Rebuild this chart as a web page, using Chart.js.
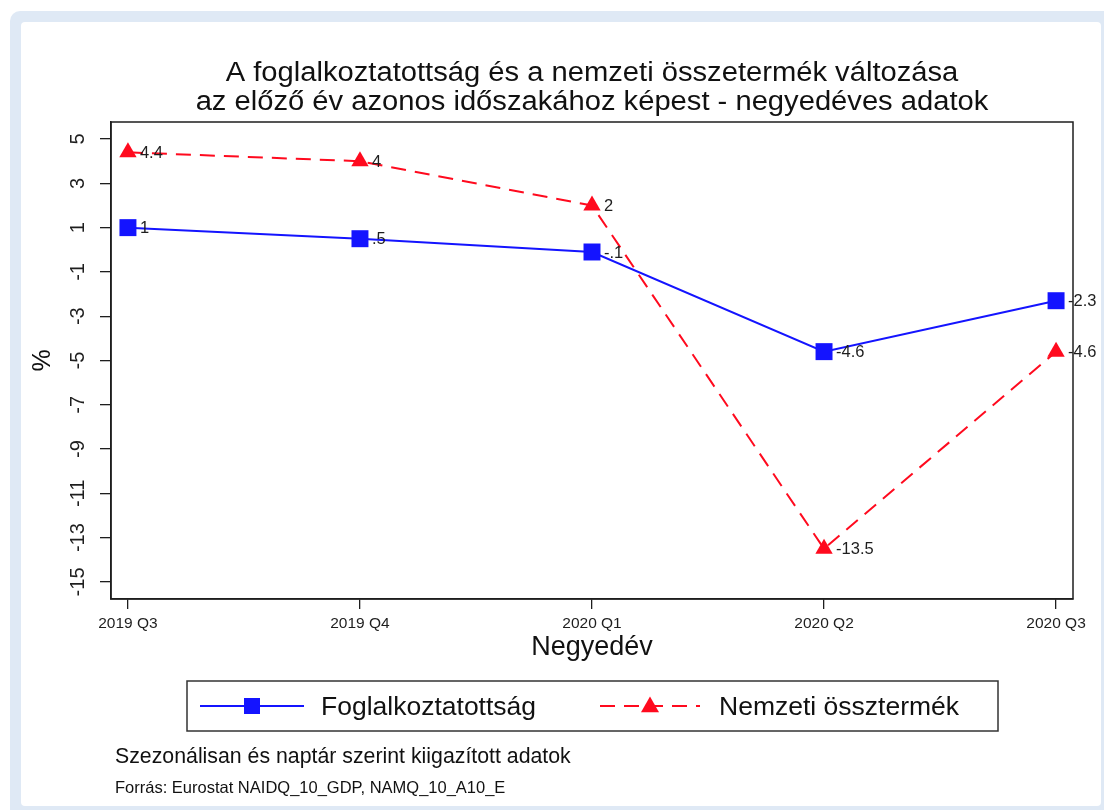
<!DOCTYPE html>
<html>
<head>
<meta charset="utf-8">
<script src="https://cdn.jsdelivr.net/npm/chart.js@4.4.1/dist/chart.umd.min.js"></script>
<style>
  html, body { margin: 0; padding: 0; background: #fff; }
  #frame { position: absolute; left: 10px; top: 11px; width: 1104px; height: 810px; background: #dfe9f5; border-radius: 10px; }
  #panel { position: absolute; left: 21px; top: 22px; width: 1080px; height: 784px; background: #fff; border-radius: 4px; }
  #wrap { position: absolute; left: 0; top: 0; width: 1104px; height: 810px; }
</style>
</head>
<body>
<div id="frame"></div>
<div id="panel"></div>
<div id="wrap"><canvas id="chart"></canvas></div>
<script>
"use strict";
// data
const quarters = ['2019 Q3', '2019 Q4', '2020 Q1', '2020 Q2', '2020 Q3'];
const employment = [1, 0.5, -0.1, -4.6, -2.3];
const gdp = [4.4, 4, 2, -13.5, -4.6];
const employmentLabels = ['1', '.5', '-.1', '-4.6', '-2.3'];
const gdpLabels = ['4.4', '4', '2', '-13.5', '-4.6'];
const yTicks = [-15, -13, -11, -9, -7, -5, -3, -1, 1, 3, 5];
const seriesNames = ['Foglalkoztatottság', 'Nemzeti össztermék'];
const titleLines = [
    'A foglalkoztatottság és a nemzeti összetermék változása',
    'az előző év azonos időszakához képest - negyedéves adatok'
];
const noteMain = 'Szezonálisan és naptár szerint kiigazított adatok';
const noteSource = 'Forrás: Eurostat NAIDQ_10_GDP, NAMQ_10_A10_E';

const FONT = "'Liberation Sans', Arial, Helvetica, sans-serif";
const BLUE = '#1414ff';
const RED = '#ff0a1e';
const INK = '#1e1e1e';

// draws a marker (square or triangle) centred on x,y
function marker(ctx, style, x, y, size, color) {
    ctx.save();
    ctx.fillStyle = color;
    ctx.beginPath();
    if (style === 'rect') {
        ctx.rect(x - size / 2, y - size / 2, size, size);
    } else {
        const h = size * 0.87;
        ctx.moveTo(x, y - h * 0.6);
        ctx.lineTo(x + size / 2, y + h * 0.4);
        ctx.lineTo(x - size / 2, y + h * 0.4);
        ctx.closePath();
    }
    ctx.fill();
    ctx.restore();
}

const decor = {
    id: 'decor',
    afterDatasetsDraw(chart) {
        const ctx = chart.ctx;
        // value labels to the right of each point
        ctx.save();
        ctx.font = '16.5px ' + FONT;
        ctx.fillStyle = INK;
        ctx.textBaseline = 'middle';
        ctx.textAlign = 'left';
        [employmentLabels, gdpLabels].forEach((labels, di) => {
            chart.getDatasetMeta(di).data.forEach((pt, i) => {
                ctx.fillText(labels[i], pt.x + 12, pt.y + 1);
            });
        });
        ctx.restore();
    },
    afterDraw(chart) {
        const ctx = chart.ctx;
        const area = chart.chartArea;
        const yScale = chart.scales.y;
        const mid = (area.left + area.right) / 2;
        ctx.save();

        // plot frame
        ctx.strokeStyle = INK;
        ctx.lineWidth = 1.5;
        ctx.strokeRect(area.left, area.top, area.right - area.left, area.bottom - area.top);

        // rotated y tick labels
        ctx.font = '20px ' + FONT;
        ctx.fillStyle = INK;
        ctx.textAlign = 'center';
        ctx.textBaseline = 'middle';
        yTicks.forEach(v => {
            const py = yScale.getPixelForValue(v);
            ctx.save();
            ctx.translate(78, py);
            ctx.rotate(-Math.PI / 2);
            ctx.fillText(String(v), 0, 0);
            ctx.restore();
        });

        // title, a little wider than the font to match the original
        ctx.save();
        ctx.font = '27px ' + FONT;
        ctx.fillStyle = '#111';
        ctx.textBaseline = 'alphabetic';
        ctx.translate(mid, 0);
        ctx.scale(1.08, 1);
        ctx.fillText(titleLines[0], 0, 81);
        ctx.fillText(titleLines[1], 0, 110);
        ctx.restore();

        // legend box
        ctx.strokeStyle = '#333';
        ctx.lineWidth = 1.5;
        ctx.strokeRect(187, 681, 811, 50);
        const ly = 706;
        const ds = chart.data.datasets;
        // first entry
        ctx.strokeStyle = ds[0].borderColor;
        ctx.lineWidth = 2;
        ctx.beginPath();
        ctx.moveTo(200, ly);
        ctx.lineTo(304, ly);
        ctx.stroke();
        marker(ctx, 'rect', 252, ly, 16, ds[0].backgroundColor);
        // second entry
        ctx.strokeStyle = ds[1].borderColor;
        ctx.setLineDash(ds[1].borderDash);
        ctx.beginPath();
        ctx.moveTo(600, ly);
        ctx.lineTo(700, ly);
        ctx.stroke();
        ctx.setLineDash([]);
        marker(ctx, 'triangle', 650, ly, 18, ds[1].backgroundColor);
        ctx.font = '26.5px ' + FONT;
        ctx.fillStyle = '#111';
        ctx.textAlign = 'left';
        ctx.textBaseline = 'alphabetic';
        ctx.fillText(seriesNames[0], 321, 715);
        ctx.fillText(seriesNames[1], 719, 715);

        // notes
        ctx.font = '21.3px ' + FONT;
        ctx.fillText(noteMain, 115, 763);
        ctx.font = '16.5px ' + FONT;
        ctx.fillText(noteSource, 115, 793);
        ctx.restore();
    }
};

const ctx = document.getElementById('chart').getContext('2d');
new Chart(ctx, {
    type: 'line',
    data: {
        datasets: [
            {
                label: seriesNames[0],
                data: employment.map((v, i) => ({ x: i, y: v })),
                borderColor: BLUE,
                backgroundColor: BLUE,
                borderWidth: 2,
                pointStyle: 'rect',
                pointRadius: 12,
                pointBorderWidth: 0,
                tension: 0
            },
            {
                label: seriesNames[1],
                data: gdp.map((v, i) => ({ x: i, y: v })),
                borderColor: RED,
                backgroundColor: RED,
                borderWidth: 2,
                borderDash: [15, 9],
                pointStyle: 'triangle',
                pointRadius: 10,
                pointBorderWidth: 0,
                tension: 0
            }
        ]
    },
    options: {
        responsive: true,
        maintainAspectRatio: false,
        animation: false,
        layout: { padding: { left: 31, right: 31, top: 122, bottom: 151 } },
        plugins: {
            legend: { display: false },
            title: { display: false },
            tooltip: { enabled: false }
        },
        scales: {
            x: {
                type: 'linear',
                min: -0.073,
                max: 4.073,
                afterBuildTicks: scale => { scale.ticks = quarters.map((q, i) => ({ value: i })); },
                afterFit: scale => { scale.height = 60; },
                ticks: {
                    callback: v => quarters[v],
                    font: { family: FONT, size: 15.5 },
                    color: INK,
                    padding: 5,
                    maxRotation: 0
                },
                grid: { drawOnChartArea: false, drawTicks: true, tickLength: 10, color: INK, lineWidth: 1.3 },
                border: { display: true, color: INK, width: 1.5 },
                title: {
                    display: true,
                    text: 'Negyedév',
                    font: { family: FONT, size: 27, lineHeight: 1 },
                    color: '#111',
                    padding: { top: 0, bottom: -2 }
                }
            },
            y: {
                min: -15.77,
                max: 5.77,
                afterBuildTicks: scale => { scale.ticks = yTicks.map(v => ({ value: v })); },
                afterFit: scale => { scale.width = 80; },
                ticks: { display: false },
                grid: { drawOnChartArea: false, drawTicks: true, tickLength: 11, color: INK, lineWidth: 1.3 },
                border: { display: true, color: INK, width: 1.5 },
                title: {
                    display: true,
                    text: '%',
                    font: { family: FONT, size: 25, lineHeight: 1 },
                    color: '#111',
                    padding: 0
                }
            }
        }
    },
    plugins: [decor]
});
</script>
</body>
</html>
